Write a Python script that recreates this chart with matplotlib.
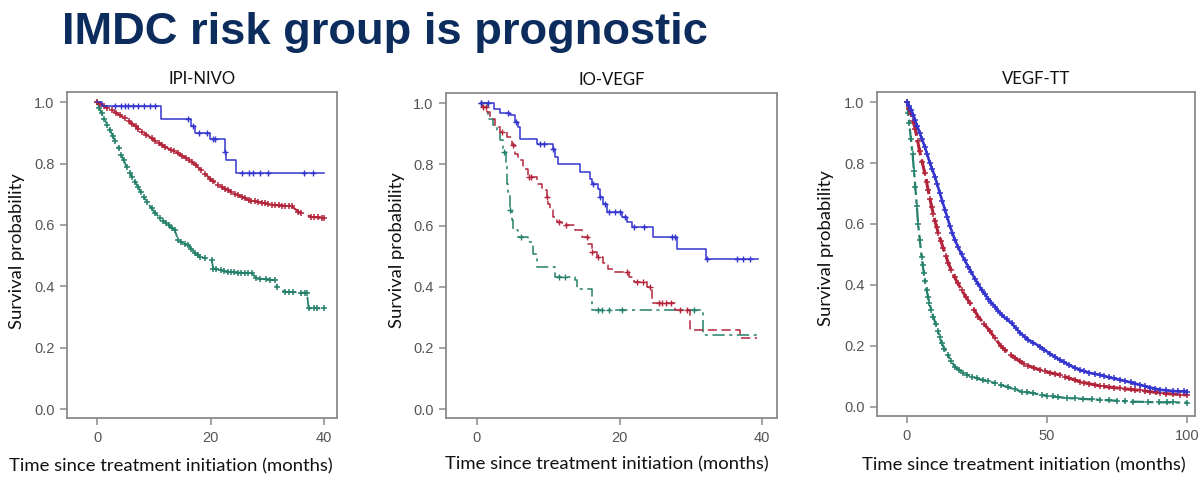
import numpy as np
import matplotlib
matplotlib.use("Agg")
import matplotlib.pyplot as plt

# ---------------- data ----------------
title_text = "IMDC risk group is prognostic"
panel_titles = ["IPI-NIVO", "IO-VEGF", "VEGF-TT"]
xlabel_text = "Time since treatment initiation (months)"
ylabel_text = "Survival probability"
xticks_p1 = [0, 20, 40]
xticks_p2 = [0, 20, 40]
xticks_p3 = [0, 50, 100]
yticks = [0.0, 0.2, 0.4, 0.6, 0.8, 1.0]

# Panel 1 (IPI-NIVO)
p1_blue_t = [0, 0.8, 11.2, 16.6, 17.2, 19.9, 22.5, 22.8, 24.5, 40.0]
p1_blue_s = [1.0, 0.986, 0.944, 0.922, 0.901, 0.879, 0.837, 0.810, 0.770, 0.770]
p1_blue_cens = [3.2, 4.3, 4.9, 5.5, 6.4, 7.3, 8.2, 9.3, 10.2, 16.1, 16.9, 17.9, 19.3,
                20.5, 20.8, 22.6, 25.5, 26.7, 27.5, 28.7, 30.2, 36.4, 38.1]
p1_red_t = [0, 2.6, 4.9, 7.3, 9.6, 12.0, 14.3, 16.7, 18.4, 19.9, 21.4, 23.1, 24.9,
            26.7, 28.4, 30.8, 34.3, 35.5, 37.8, 40.0]
p1_red_s = [1.0, 0.974, 0.947, 0.914, 0.882, 0.854, 0.833, 0.806, 0.778, 0.751, 0.729,
            0.713, 0.697, 0.681, 0.675, 0.665, 0.661, 0.643, 0.626, 0.623]
p1_red_cens = [0.5, 1.2, 1.8, 3.3, 4.0, 5.6, 6.2, 6.8, 8.0, 8.7, 10.3, 11.0, 11.5, 13.0,
               13.6, 15.0, 15.7, 16.2, 17.4, 19.0, 20.4, 22.0, 22.6, 23.6, 24.3, 25.5,
               26.0, 27.2, 27.8, 29.0, 29.6, 30.2, 31.4, 32.0, 32.6, 33.2, 33.8, 36.0,
               38.3, 39.0, 39.6]
p1_green_t = [0, 0.8, 2.3, 3.8, 5.2, 6.7, 8.2, 9.6, 11.1, 12.6, 13.7, 14.3, 16.1, 17.3,
              18.2, 20.2, 20.5, 23.1, 27.3, 28.1, 31.4, 31.7, 33.1, 37.0, 37.3, 40.0]
p1_green_s = [1.0, 0.963, 0.909, 0.849, 0.789, 0.740, 0.692, 0.654, 0.621, 0.599, 0.583,
              0.550, 0.534, 0.507, 0.496, 0.485, 0.458, 0.447, 0.442, 0.426, 0.420, 0.398,
              0.382, 0.379, 0.328, 0.328]
p1_green_cens = [0.4, 1.3, 1.8, 2.8, 3.2, 4.3, 4.7, 5.8, 6.2, 7.2, 7.7, 8.8, 10.3, 11.6,
                 12.2, 13.2, 14.8, 15.5, 16.6, 17.8, 19.0, 21.0, 21.8, 22.4, 23.6, 24.2,
                 24.8, 25.4, 26.0, 26.6, 28.8, 29.8, 30.5, 33.8, 34.6, 36.0, 36.6,
                 38.2, 38.7]

# Panel 2 (IO-VEGF)
p2_blue_t = [0.5, 2.4, 3.2, 4.6, 5.3, 5.8, 6.0, 8.4, 10.7, 10.9, 11.4, 14.4, 15.8, 16.1,
             17.0, 17.2, 17.7, 18.2, 20.3, 21.0, 21.7, 24.7, 28.0, 32.2, 39.4]
p2_blue_s = [1.0, 0.98, 0.967, 0.96, 0.938, 0.922, 0.884, 0.867, 0.851, 0.824, 0.802,
             0.775, 0.753, 0.737, 0.720, 0.693, 0.671, 0.644, 0.628, 0.612, 0.595, 0.563,
             0.524, 0.489, 0.489]
p2_blue_cens = [0.6, 1.6, 4.3, 5.5, 8.8, 9.4, 10.7, 16.3, 17.2, 18.0, 18.5, 19.3, 20.0,
                20.8, 22.1, 23.5, 27.3, 27.8, 32.3, 36.5, 37.3, 38.3]
p2_red_t = [0.5, 0.65, 1.35, 1.8, 2.5, 3.2, 4.2, 4.9, 5.3, 5.8, 6.5, 7.2, 8.4, 9.1, 9.8,
            10.0, 10.2, 10.7, 11.2, 11.9, 13.7, 14.7, 15.6, 16.1, 16.8, 17.7, 18.4, 19.3,
            21.4, 22.1, 23.8, 24.5, 27.8, 29.9, 36.9, 39.3]
p2_red_s = [1.0, 0.987, 0.97, 0.949, 0.922, 0.905, 0.889, 0.862, 0.835, 0.813, 0.786,
            0.758, 0.737, 0.715, 0.693, 0.671, 0.650, 0.628, 0.612, 0.601, 0.584, 0.563,
            0.541, 0.514, 0.497, 0.476, 0.459, 0.448, 0.432, 0.416, 0.399, 0.348, 0.324,
            0.259, 0.232, 0.232]
p2_red_cens = [0.8, 1.3, 3.5, 5.0, 7.3, 7.6, 9.8, 11.5, 12.5, 15.5, 16.2, 17.0, 21.0,
               22.5, 23.3, 24.3, 25.5, 26.0, 26.5, 27.2, 28.5, 29.5]
p2_green_t = [0.4, 1.6, 2.3, 2.8, 3.2, 3.7, 4.1, 4.25, 4.4, 4.6, 4.9, 5.1, 5.8, 7.2, 7.9,
              8.4, 10.9, 13.7, 14.0, 16.1, 31.7, 39.3]
p2_green_s = [1.0, 0.949, 0.927, 0.911, 0.878, 0.84, 0.802, 0.737, 0.704, 0.650, 0.617,
              0.584, 0.563, 0.546, 0.508, 0.465, 0.432, 0.421, 0.394, 0.324, 0.242, 0.242]
p2_green_cens = [0.5, 3.8, 4.6, 6.2, 11.5, 12.3, 17.0, 17.5, 18.5, 20.3, 30.5]

# Panel 3 (VEGF-TT)
p3_blue_t = [0, 1.5, 2.9, 4.5, 6.4, 8.2, 10.0, 11.8, 13.6, 15.3, 17.1, 19.5, 21.9, 24.3,
             26.7, 29.0, 31.4, 34.0, 37.4, 40.4, 43.3, 47.5, 51.0, 54.6, 58.0, 61.8,
             65.0, 68.9, 72.0, 76.1, 80.0, 83.3, 87.0, 90.5, 95.0, 100.0]
p3_blue_s = [1.0, 0.975, 0.941, 0.90, 0.853, 0.80, 0.755, 0.70, 0.646, 0.595, 0.548,
             0.50, 0.46, 0.42, 0.384, 0.355, 0.329, 0.30, 0.274, 0.243, 0.22, 0.198,
             0.175, 0.154, 0.137, 0.121, 0.112, 0.105, 0.097, 0.089, 0.080, 0.072,
             0.063, 0.056, 0.052, 0.050]
p3_blue_cens = [0.8, 2.2, 3.6, 5.3, 7.2, 9.0, 10.8, 12.6, 14.4, 16.2, 18.2, 20.6, 23.0,
                25.5, 27.8, 30.2, 32.6, 35.6, 38.8, 42.0, 45.2, 49.0, 52.8, 56.2, 60.0,
                63.4, 67.0, 70.4, 74.0, 78.0, 81.6, 85.0, 88.6, 92.6, 97.0, 99.0]
p3_red_t = [0, 1.5, 3.0, 4.5, 6.4, 7.6, 8.8, 10.0, 11.2, 13.0, 14.8, 17.0, 19.5, 22.5,
            25.5, 29.5, 33.5, 37.0, 40.4, 43.3, 47.5, 51.0, 54.6, 58.0, 61.8, 65.0,
            68.9, 72.0, 76.1, 80.0, 83.3, 87.0, 90.5, 95.0, 100.0]
p3_red_s = [1.0, 0.96, 0.91, 0.84, 0.766, 0.71, 0.657, 0.61, 0.569, 0.52, 0.471, 0.425,
            0.384, 0.34, 0.296, 0.25, 0.20, 0.17, 0.149, 0.135, 0.121, 0.112, 0.105,
            0.094, 0.083, 0.076, 0.069, 0.065, 0.061, 0.057, 0.054, 0.050, 0.045,
            0.042, 0.039]
p3_red_cens = [0.8, 2.2, 3.8, 5.4, 7.0, 8.2, 9.4, 10.6, 12.1, 13.9, 15.9, 18.2, 21.0,
               24.0, 27.5, 31.5, 35.2, 38.7, 41.8, 45.4, 49.2, 52.8, 56.3, 60.0, 63.4,
               67.0, 70.5, 74.0, 78.0, 81.6, 85.2, 88.8, 92.7, 97.5]
p3_green_t = [0, 0.8, 2.0, 3.0, 4.0, 5.2, 6.0, 7.0, 8.0, 9.4, 11.0, 12.4, 14.5, 17.1,
              20.0, 23.1, 27.0, 31.4, 36.0, 41.0, 45.0, 48.1, 52.0, 57.0, 63.0, 69.0,
              75.0, 80.8, 90.0, 100.0]
p3_green_s = [1.0, 0.93, 0.83, 0.72, 0.60, 0.493, 0.44, 0.384, 0.34, 0.296, 0.25,
              0.209, 0.17, 0.132, 0.112, 0.099, 0.088, 0.078, 0.065, 0.050, 0.045,
              0.039, 0.034, 0.029, 0.026, 0.023, 0.020, 0.017, 0.015, 0.014]
p3_green_cens = [0.4, 1.4, 2.5, 3.5, 4.6, 5.6, 6.5, 7.5, 8.7, 10.2, 11.7, 13.4, 15.8,
                 18.5, 21.5, 25.0, 29.0, 33.5, 38.5, 43.0, 50.0, 54.0, 60.0, 66.0, 72.0,
                 78.0, 86.0, 93.0, 95.0]

# ---------------- style ----------------
BLUE = "#3434cf"
RED = "#b3243a"
GREEN = "#24806a"
FRAME = "#8a8a8a"
TICKC = "#555555"
LABEL_FONT = ["Lato", "DejaVu Sans"]
TICK_FONT = ["Liberation Sans Narrow", "Liberation Sans", "DejaVu Sans"]

RED_DASH = (0, (6, 3))
GREEN_DASH = (0, (8, 3, 2, 3))


def step_value(t, s, c):
    t = np.asarray(t)
    idx = np.searchsorted(t, c, side="right") - 1
    idx = np.clip(idx, 0, len(s) - 1)
    return np.asarray(s)[idx]


def style_axes(ax, xlim, ylim, xticks, title, xl_pos, yl_pos):
    ax.set_xlim(*xlim)
    ax.set_ylim(*ylim)
    ax.set_xticks(xticks)
    ax.set_yticks(yticks)
    ax.set_yticklabels([f"{v:.1f}" for v in yticks])
    for sp in ax.spines.values():
        sp.set_color(FRAME)
        sp.set_linewidth(1.3)
    ax.tick_params(axis="both", direction="out", length=5, width=1.1, color=FRAME,
                   labelcolor=TICKC, labelsize=10.5, pad=4)
    for lab in ax.get_xticklabels() + ax.get_yticklabels():
        lab.set_family(TICK_FONT)
    ax.set_title(title, fontsize=12, family=LABEL_FONT, color="#111111", pad=6)
    ax.set_xlabel(xlabel_text, fontsize=13.3, family=LABEL_FONT, color="#111111")
    ax.set_ylabel(ylabel_text, fontsize=13.3, family=LABEL_FONT, color="#111111")
    ax.xaxis.set_label_coords(*xl_pos)
    ax.yaxis.set_label_coords(*yl_pos)


def km_steps(ax, t, s, color, ls, cens, lw=1.1):
    ax.plot(t, s, drawstyle="steps-post", color=color, linestyle=ls, lw=lw)
    if cens is not None:
        ax.plot(cens, step_value(t, s, cens), linestyle="none", marker="+",
                color=color, markersize=5, markeredgewidth=1.0)


def km_dense(ax, t, s, color, ls, cens, lw=1.6, ms=5):
    ax.plot(t, s, color=color, linestyle=ls, lw=lw, marker="+", markersize=ms,
            markeredgewidth=1.1)
    if cens is not None:
        ax.plot(cens, np.interp(cens, t, s), linestyle="none", marker="+",
                color=color, markersize=ms, markeredgewidth=1.1)


fig = plt.figure(figsize=(12, 4.8), dpi=100)
fig.text(62 / 1200, 1 - 44 / 480, title_text, fontsize=32.6, weight="bold",
         color="#0c2c5e", family=["Liberation Sans", "DejaVu Sans"],
         ha="left", va="baseline")

ax1 = fig.add_axes([67 / 1200, 62 / 480, 270 / 1200, 326 / 480])
ax2 = fig.add_axes([446 / 1200, 62 / 480, 331 / 1200, 325 / 480])
ax3 = fig.add_axes([877 / 1200, 64 / 480, 318 / 1200, 324 / 480])

# Panel 1
km_dense(ax1, p1_green_t, p1_green_s, GREEN, GREEN_DASH, p1_green_cens, lw=1.3, ms=4.5)
km_dense(ax1, p1_red_t, p1_red_s, RED, RED_DASH, p1_red_cens, lw=1.5, ms=4.5)
km_steps(ax1, p1_blue_t, p1_blue_s, BLUE, "-", p1_blue_cens)
style_axes(ax1, (-5.3, 42.3), (-0.029, 1.033), xticks_p1, panel_titles[0],
           (0.385, -0.125), (-0.156, 0.512))

# Panel 2
km_steps(ax2, p2_green_t, p2_green_s, GREEN, GREEN_DASH, p2_green_cens)
km_steps(ax2, p2_red_t, p2_red_s, RED, RED_DASH, p2_red_cens)
km_steps(ax2, p2_blue_t, p2_blue_s, BLUE, "-", p2_blue_cens)
style_axes(ax2, (-4.35, 42.1), (-0.029, 1.033), xticks_p2, panel_titles[1],
           (0.486, -0.118), (-0.124, 0.515))

# Panel 3
km_dense(ax3, p3_green_t, p3_green_s, GREEN, (0, (6, 2, 2, 2)), p3_green_cens, lw=1.6, ms=5)
km_dense(ax3, p3_red_t, p3_red_s, RED, (0, (5, 1.5)), p3_red_cens, lw=2.2, ms=5)
km_dense(ax3, p3_blue_t, p3_blue_s, BLUE, "-", p3_blue_cens, lw=1.9, ms=5)
style_axes(ax3, (-10.7, 102.9), (-0.03, 1.033), xticks_p3, panel_titles[2],
           (0.462, -0.127), (-0.135, 0.518))

fig.savefig("out.png", dpi=100)
